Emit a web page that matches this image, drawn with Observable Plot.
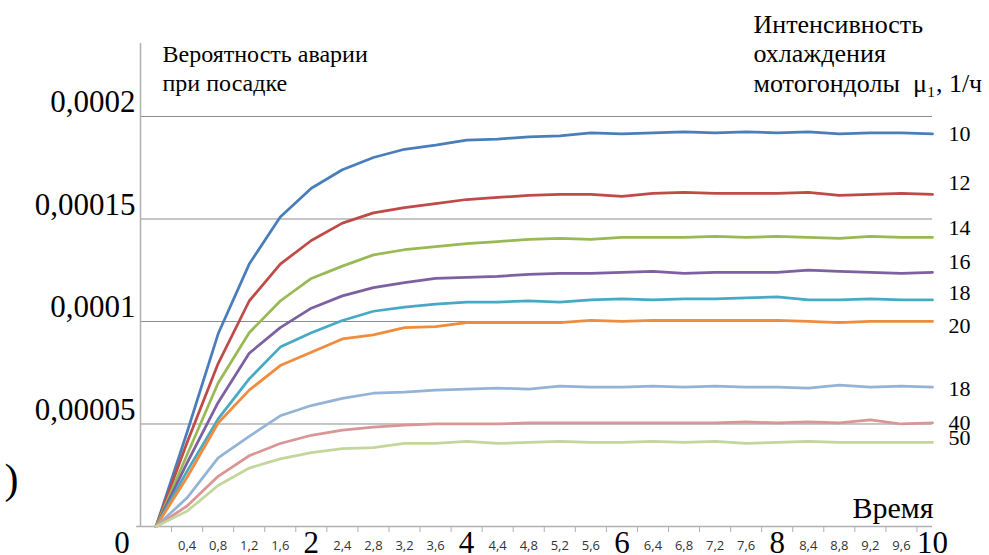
<!DOCTYPE html>
<html><head><meta charset="utf-8">
<script src="https://cdn.jsdelivr.net/npm/d3@7"></script>
<script src="https://cdn.jsdelivr.net/npm/@observablehq/plot@0.6"></script>
<style>body{margin:0;background:#fff}</style>
</head><body><div id="chart"></div>
<script>
// Time, hours
const t = [0,0.4,0.8,1.2,1.6,2,2.4,2.8,3.2,3.6,4,4.4,4.8,5.2,5.6,6,6.4,6.8,7.2,7.6,8,8.4,8.8,9.2,9.6,10];
// Probability values in units of 1e-5
const s10  = [0,4.6,9.4,12.8,15.1,16.5,17.4,18.0,18.4,18.6,18.85,18.9,19.0,19.05,19.2,19.15,19.2,19.25,19.2,19.25,19.2,19.25,19.15,19.2,19.2,19.15];
const s12  = [0,4.1,7.95,11.0,12.8,13.95,14.8,15.3,15.55,15.75,15.95,16.05,16.15,16.2,16.2,16.1,16.25,16.3,16.25,16.25,16.25,16.3,16.15,16.2,16.25,16.2];
const s14  = [0,3.5,7.0,9.45,11.0,12.1,12.7,13.25,13.5,13.65,13.8,13.9,14.0,14.05,14.0,14.1,14.1,14.1,14.15,14.1,14.15,14.1,14.05,14.15,14.1,14.1];
const s16  = [0,3.1,6.05,8.45,9.7,10.65,11.25,11.65,11.9,12.1,12.15,12.2,12.3,12.35,12.35,12.4,12.45,12.35,12.4,12.4,12.4,12.5,12.45,12.4,12.35,12.4];
const s18  = [0,2.7,5.25,7.2,8.75,9.45,10.05,10.5,10.7,10.85,10.95,10.95,11.0,10.95,11.05,11.1,11.05,11.1,11.1,11.15,11.2,11.05,11.05,11.1,11.05,11.05];
const s20  = [0,2.4,5.05,6.65,7.85,8.5,9.15,9.35,9.7,9.75,9.95,9.95,9.95,9.95,10.05,10.0,10.05,10.05,10.05,10.05,10.05,10.0,9.95,10.0,10.0,10.0];
const s18b = [0,1.4,3.35,4.4,5.4,5.9,6.25,6.5,6.55,6.65,6.7,6.75,6.7,6.85,6.8,6.8,6.85,6.8,6.85,6.8,6.8,6.75,6.9,6.8,6.85,6.8];
const s40  = [0,1.0,2.45,3.45,4.05,4.45,4.7,4.85,4.95,5.0,5.0,5.0,5.05,5.05,5.05,5.05,5.05,5.05,5.05,5.1,5.05,5.1,5.05,5.2,5.0,5.05];
const s50  = [0,0.75,2.0,2.85,3.3,3.6,3.8,3.85,4.05,4.05,4.15,4.05,4.1,4.15,4.1,4.1,4.15,4.1,4.15,4.05,4.1,4.15,4.1,4.1,4.1,4.1];
const seriesValues = [s10, s12, s14, s16, s18, s20, s18b, s40, s50];
const seriesNames = ["10","12","14","16","18","20","18","40","50"];
const labelLevels = [19.17,16.78,14.54,12.88,11.37,9.8,6.73,5.07,4.34];
const colors = ["#4a7ebb","#be4b48","#98b954","#7d60a0","#46aac5","#f08c3c","#95b3d7","#d99694","#c3d69b"];

const yTicks = [5, 10, 15, 20];
const yTickLabels = ["0,00005","0,0001","0,00015","0,0002"];
const xMajor = [0, 2, 4, 6, 8, 10];
const xMinor = [0.4,0.8,1.2,1.6,2.4,2.8,3.2,3.6,4.4,4.8,5.2,5.6,6.4,6.8,7.2,7.6,8.4,8.8,9.2,9.6];
const xTickMarks = [0.2,0.6,1.0,1.4,1.8,2.2,2.6,3.0,3.4,3.8,4.2,4.6,5.0,5.4,5.8,6.2,6.6,7.0,7.4,7.8,8.2,8.6,9.0,9.4,9.8];

const rows = [];
seriesValues.forEach((vals, k) => vals.forEach((v, i) => rows.push({t: t[i], v, k})));

const serif = "'Liberation Serif', 'Times New Roman', serif";
const gray = "#b0b0b0";

const chart = Plot.plot({
  width: 989, height: 555,
  marginLeft: 140, marginRight: 57, marginTop: 43, marginBottom: 29,
  x: {domain: [-0.2, 10], axis: null},
  y: {domain: [0, 23.56], axis: null},
  color: {domain: d3.range(9), range: colors},
  style: {fontFamily: serif, background: "white", overflow: "visible"},
  marks: [
    Plot.ruleY(yTicks, {x1: -0.2, x2: 10, stroke: "#8c8c8c", strokeWidth: 1}),
    Plot.ruleX([-0.2], {stroke: gray, strokeWidth: 1.5}),
    Plot.ruleY([0], {x1: -0.25, x2: 10, stroke: gray, strokeWidth: 1.5}),
    Plot.axisX({ticks: xTickMarks, tickSize: 6, tickFormat: () => "", stroke: gray, label: null}),
    Plot.line(rows, {x: "t", y: "v", z: "k", stroke: "k", strokeWidth: 2.75, strokeLinejoin: "round"}),
    Plot.text(yTicks, {x: -0.2, y: d => d, text: (d, i) => yTickLabels[i], textAnchor: "end", lineAnchor: "bottom", dx: -5, dy: -4, fontSize: 31}),
    Plot.text(xMajor, {filter: d => d > 0, x: d => d, y: 0, text: d => String(d), lineAnchor: "bottom", dy: 26, fontSize: 31}),
    Plot.text(xMajor, {filter: d => d === 0, x: d => d, y: 0, text: d => String(d), lineAnchor: "bottom", dx: -34, dy: 26, fontSize: 31}),
    Plot.text(xMinor, {x: d => d, y: 0, text: d => String(d).replace(".", ","), lineAnchor: "bottom", dy: 23, fontSize: 13, fontFamily: "'Open Sans', sans-serif", fill: "#333"}),
    Plot.text(labelLevels, {x: 10, y: d => d, text: (d, i) => seriesNames[i], textAnchor: "start", dx: 16, fontSize: 22}),
    Plot.text(["Вероятность аварии\nпри посадке"], {frameAnchor: "top-left", textAnchor: "start", lineAnchor: "bottom", dx: 22, dy: 47, fontSize: 24, lineHeight: 1.17}),
    Plot.text(["Интенсивность\nохлаждения\nмотогондолы  μ₁, 1/ч"], {frameAnchor: "top-left", textAnchor: "start", lineAnchor: "bottom", dx: 613, dy: 48, fontSize: 26, lineHeight: 1.13}),
    Plot.text(["Время"], {frameAnchor: "bottom-right", textAnchor: "end", lineAnchor: "bottom", dx: 1, dy: -9, fontSize: 30}),
    Plot.text([")"], {frameAnchor: "bottom-left", textAnchor: "start", dx: -136, dy: -34, fontSize: 42})
  ]
});
document.getElementById("chart").appendChild(chart);
</script>
</body></html>
